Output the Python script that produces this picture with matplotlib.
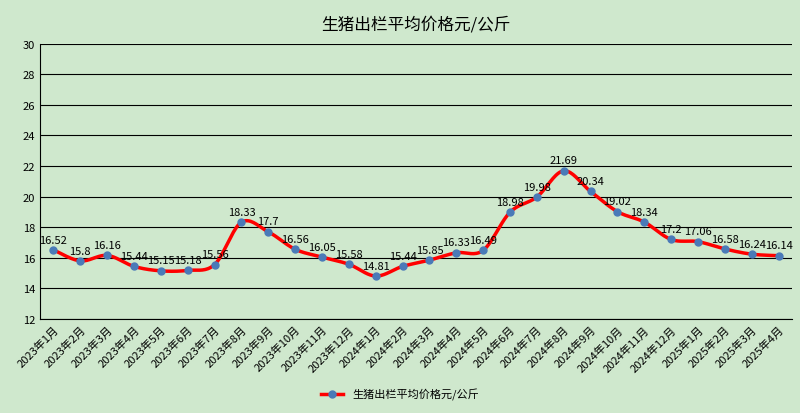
import matplotlib
matplotlib.use("Agg")
import matplotlib.pyplot as plt
import numpy as np

plt.rcParams["font.family"] = ["Noto Sans CJK SC", "DejaVu Sans"]

months = ["2023年1月","2023年2月","2023年3月","2023年4月","2023年5月","2023年6月","2023年7月",
          "2023年8月","2023年9月","2023年10月","2023年11月","2023年12月",
          "2024年1月","2024年2月","2024年3月","2024年4月","2024年5月","2024年6月","2024年7月",
          "2024年8月","2024年9月","2024年10月","2024年11月","2024年12月",
          "2025年1月","2025年2月","2025年3月","2025年4月"]
prices = [16.52,15.8,16.16,15.44,15.15,15.18,15.56,18.33,17.7,16.56,16.05,15.58,
          14.81,15.44,15.85,16.33,16.49,18.98,19.98,21.69,20.34,19.02,18.34,17.2,
          17.06,16.58,16.24,16.14]
labels = ["16.52","15.8","16.16","15.44","15.15","15.18","15.56","18.33","17.7","16.56","16.05","15.58",
          "14.81","15.44","15.85","16.33","16.49","18.98","19.98","21.69","20.34","19.02","18.34","17.2",
          "17.06","16.58","16.24","16.14"]
title = "生猪出栏平均价格元/公斤"

def catmull(x, y, n=20):
    x = np.asarray(x, float); y = np.asarray(y, float)
    xs, ys = [], []
    px = np.concatenate([[x[0]], x, [x[-1]]]); py = np.concatenate([[y[0]], y, [y[-1]]])
    t = np.linspace(0, 1, n, endpoint=False)
    for i in range(1, len(px) - 2):
        for arr, out in ((px, xs), (py, ys)):
            p0, p1, p2, p3 = arr[i-1], arr[i], arr[i+1], arr[i+2]
            out.extend(0.5*((2*p1) + (-p0+p2)*t + (2*p0-5*p1+4*p2-p3)*t**2 + (-p0+3*p1-3*p2+p3)*t**3))
    xs.append(x[-1]); ys.append(y[-1])
    return np.array(xs), np.array(ys)

bg = "#cfe8cd"
fig = plt.figure(figsize=(8, 4.14), dpi=100, facecolor=bg)
ax = fig.add_axes([0.05, 0.227, 0.94, 0.665], facecolor=bg)
x = np.arange(len(prices))
sx, sy = catmull(x, prices)
ax.plot(sx, sy, color="red", lw=2.5, zorder=2)
ax.plot(x, prices, "o", color="#4a7ab8", ms=5, zorder=3, label=title)
ax.plot([], [], color="red", lw=2.5)
for xi, yi, lb in zip(x, prices, labels):
    ax.text(xi, yi + 0.35, lb, ha="center", va="bottom", fontsize=8)
ax.set_ylim(12, 30)
ax.set_yticks(range(12, 31, 2))
ax.set_xlim(-0.5, len(prices) - 0.5)
ax.set_xticks(x)
ax.set_xticklabels(months, rotation=45, ha="right", rotation_mode="anchor", fontsize=8)
ax.tick_params(axis="y", labelsize=8, length=0)
ax.tick_params(axis="x", length=0)
ax.grid(axis="y", color="black", lw=0.8)
ax.set_axisbelow(True)
for s in ["top", "right"]:
    ax.spines[s].set_visible(False)
ax.spines["left"].set_color("black")
ax.spines["bottom"].set_color("black")
fig.text(0.52, 0.94, title, ha="center", va="center", fontsize=12)
from matplotlib.lines import Line2D
h = Line2D([], [], color="red", lw=2.5, marker="o", mfc="#4a7ab8", mec="#4a7ab8", ms=5)
fig.legend([h], [title], loc="center", bbox_to_anchor=(0.5, 0.045), frameon=False, fontsize=8)
fig.savefig("out.png", dpi=100, facecolor=bg)
